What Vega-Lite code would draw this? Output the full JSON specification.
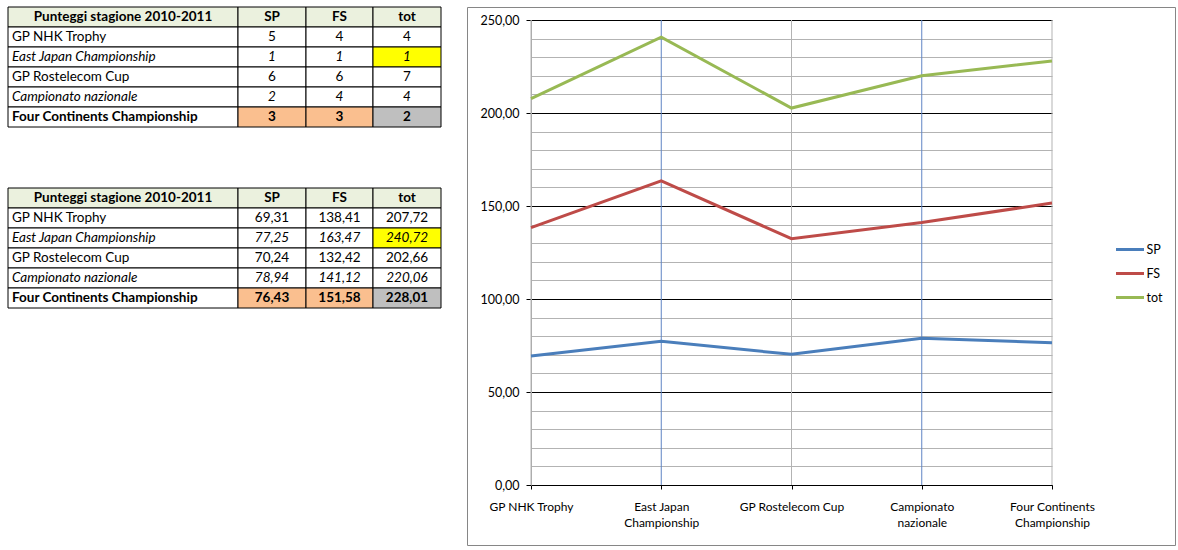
{
  "$schema": "https://vega.github.io/schema/vega-lite/v6.json",
  "background": "white",
  "padding": {"left": 7, "top": 6, "right": 0, "bottom": 0},
  "config": {"font": "Lato", "view": {"stroke": null}},
  "datasets": {
    "cells": [
      {"t": "rank", "r": 0, "col": "ev", "text": "Punteggi stagione 2010-2011", "st": "b", "hl": "head"},
      {"t": "rank", "r": 0, "col": "SP", "text": "SP", "st": "b", "hl": "head"},
      {"t": "rank", "r": 0, "col": "FS", "text": "FS", "st": "b", "hl": "head"},
      {"t": "rank", "r": 0, "col": "tot", "text": "tot", "st": "b", "hl": "head"},
      {"t": "rank", "r": 1, "col": "ev", "text": "GP NHK Trophy", "st": "n", "hl": "n"},
      {"t": "rank", "r": 1, "col": "SP", "text": "5", "st": "n", "hl": "n"},
      {"t": "rank", "r": 1, "col": "FS", "text": "4", "st": "n", "hl": "n"},
      {"t": "rank", "r": 1, "col": "tot", "text": "4", "st": "n", "hl": "n"},
      {"t": "rank", "r": 2, "col": "ev", "text": "East Japan Championship", "st": "i", "hl": "n"},
      {"t": "rank", "r": 2, "col": "SP", "text": "1", "st": "i", "hl": "n"},
      {"t": "rank", "r": 2, "col": "FS", "text": "1", "st": "i", "hl": "n"},
      {"t": "rank", "r": 2, "col": "tot", "text": "1", "st": "i", "hl": "y"},
      {"t": "rank", "r": 3, "col": "ev", "text": "GP Rostelecom Cup", "st": "n", "hl": "n"},
      {"t": "rank", "r": 3, "col": "SP", "text": "6", "st": "n", "hl": "n"},
      {"t": "rank", "r": 3, "col": "FS", "text": "6", "st": "n", "hl": "n"},
      {"t": "rank", "r": 3, "col": "tot", "text": "7", "st": "n", "hl": "n"},
      {"t": "rank", "r": 4, "col": "ev", "text": "Campionato nazionale", "st": "i", "hl": "n"},
      {"t": "rank", "r": 4, "col": "SP", "text": "2", "st": "i", "hl": "n"},
      {"t": "rank", "r": 4, "col": "FS", "text": "4", "st": "i", "hl": "n"},
      {"t": "rank", "r": 4, "col": "tot", "text": "4", "st": "i", "hl": "n"},
      {"t": "rank", "r": 5, "col": "ev", "text": "Four Continents Championship", "st": "b", "hl": "n"},
      {"t": "rank", "r": 5, "col": "SP", "text": "3", "st": "b", "hl": "o"},
      {"t": "rank", "r": 5, "col": "FS", "text": "3", "st": "b", "hl": "o"},
      {"t": "rank", "r": 5, "col": "tot", "text": "2", "st": "b", "hl": "g"},
      {"t": "score", "r": 0, "col": "ev", "text": "Punteggi stagione 2010-2011", "st": "b", "hl": "head"},
      {"t": "score", "r": 0, "col": "SP", "text": "SP", "st": "b", "hl": "head"},
      {"t": "score", "r": 0, "col": "FS", "text": "FS", "st": "b", "hl": "head"},
      {"t": "score", "r": 0, "col": "tot", "text": "tot", "st": "b", "hl": "head"},
      {"t": "score", "r": 1, "col": "ev", "text": "GP NHK Trophy", "st": "n", "hl": "n"},
      {"t": "score", "r": 1, "col": "SP", "text": "69,31", "st": "n", "hl": "n"},
      {"t": "score", "r": 1, "col": "FS", "text": "138,41", "st": "n", "hl": "n"},
      {"t": "score", "r": 1, "col": "tot", "text": "207,72", "st": "n", "hl": "n"},
      {"t": "score", "r": 2, "col": "ev", "text": "East Japan Championship", "st": "i", "hl": "n"},
      {"t": "score", "r": 2, "col": "SP", "text": "77,25", "st": "i", "hl": "n"},
      {"t": "score", "r": 2, "col": "FS", "text": "163,47", "st": "i", "hl": "n"},
      {"t": "score", "r": 2, "col": "tot", "text": "240,72", "st": "i", "hl": "y"},
      {"t": "score", "r": 3, "col": "ev", "text": "GP Rostelecom Cup", "st": "n", "hl": "n"},
      {"t": "score", "r": 3, "col": "SP", "text": "70,24", "st": "n", "hl": "n"},
      {"t": "score", "r": 3, "col": "FS", "text": "132,42", "st": "n", "hl": "n"},
      {"t": "score", "r": 3, "col": "tot", "text": "202,66", "st": "n", "hl": "n"},
      {"t": "score", "r": 4, "col": "ev", "text": "Campionato nazionale", "st": "i", "hl": "n"},
      {"t": "score", "r": 4, "col": "SP", "text": "78,94", "st": "i", "hl": "n"},
      {"t": "score", "r": 4, "col": "FS", "text": "141,12", "st": "i", "hl": "n"},
      {"t": "score", "r": 4, "col": "tot", "text": "220,06", "st": "i", "hl": "n"},
      {"t": "score", "r": 5, "col": "ev", "text": "Four Continents Championship", "st": "b", "hl": "n"},
      {"t": "score", "r": 5, "col": "SP", "text": "76,43", "st": "b", "hl": "o"},
      {"t": "score", "r": 5, "col": "FS", "text": "151,58", "st": "b", "hl": "o"},
      {"t": "score", "r": 5, "col": "tot", "text": "228,01", "st": "b", "hl": "g"}
    ],
    "series": [
      {"event": "GP NHK Trophy", "serie": "SP", "value": 69.31},
      {"event": "East Japan Championship", "serie": "SP", "value": 77.25},
      {"event": "GP Rostelecom Cup", "serie": "SP", "value": 70.24},
      {"event": "Campionato nazionale", "serie": "SP", "value": 78.94},
      {"event": "Four Continents Championship", "serie": "SP", "value": 76.43},
      {"event": "GP NHK Trophy", "serie": "FS", "value": 138.41},
      {"event": "East Japan Championship", "serie": "FS", "value": 163.47},
      {"event": "GP Rostelecom Cup", "serie": "FS", "value": 132.42},
      {"event": "Campionato nazionale", "serie": "FS", "value": 141.12},
      {"event": "Four Continents Championship", "serie": "FS", "value": 151.58},
      {"event": "GP NHK Trophy", "serie": "tot", "value": 207.72},
      {"event": "East Japan Championship", "serie": "tot", "value": 240.72},
      {"event": "GP Rostelecom Cup", "serie": "tot", "value": 202.66},
      {"event": "Campionato nazionale", "serie": "tot", "value": 220.06},
      {"event": "Four Continents Championship", "serie": "tot", "value": 228.01}
    ]
  },
  "spacing": 24,
  "hconcat": [
    {
      "data": {"name": "cells"},
      "spacing": 59,
      "vconcat": [
        {
          "bounds": "flush",
          "spacing": 0,
          "hconcat": [
            {
              "width": 230, "height": 120,
              "transform": [{"filter": "datum.t == 'rank' && datum.col == 'ev'"}],
              "encoding": {"y": {"field": "r", "type": "ordinal", "scale": {"paddingInner": 0, "paddingOuter": 0}, "axis": null}},
              "layer": [
                {"mark": {"type": "rect", "stroke": "black", "strokeWidth": 1}, "encoding": {"fill": {"field": "hl", "type": "nominal", "scale": {"domain": ["head", "n", "y", "o", "g"], "range": ["#ebf1de", "#ffffff", "#ffff00", "#fabf8f", "#bfbfbf"]}, "legend": null}}},
                {"transform": [{"filter": "datum.r == 0"}], "mark": {"type": "text", "fontSize": 13.5, "color": "black", "fontWeight": "bold"}, "encoding": {"text": {"field": "text"}}},
                {"transform": [{"filter": "datum.r > 0"}], "mark": {"type": "text", "fontSize": 13.5, "color": "black", "align": "left", "dx": 4, "fontWeight": {"expr": "datum.st == 'b' ? 'bold' : 'normal'"}, "fontStyle": {"expr": "datum.st == 'i' ? 'italic' : 'normal'"}}, "encoding": {"text": {"field": "text"}, "x": {"field": "col", "type": "nominal", "scale": {"type": "point", "padding": 0, "align": 0}, "axis": null}}}
              ]
            },
            {
              "width": 68, "height": 120,
              "transform": [{"filter": "datum.t == 'rank' && datum.col == 'SP'"}],
              "encoding": {"y": {"field": "r", "type": "ordinal", "scale": {"paddingInner": 0, "paddingOuter": 0}, "axis": null}},
              "layer": [
                {"mark": {"type": "rect", "stroke": "black", "strokeWidth": 1}, "encoding": {"fill": {"field": "hl", "type": "nominal", "scale": {"domain": ["head", "n", "y", "o", "g"], "range": ["#ebf1de", "#ffffff", "#ffff00", "#fabf8f", "#bfbfbf"]}, "legend": null}}},
                {"mark": {"type": "text", "fontSize": 13.5, "color": "black", "fontWeight": {"expr": "datum.st == 'b' ? 'bold' : 'normal'"}, "fontStyle": {"expr": "datum.st == 'i' ? 'italic' : 'normal'"}}, "encoding": {"text": {"field": "text"}}}
              ]
            },
            {
              "width": 67, "height": 120,
              "transform": [{"filter": "datum.t == 'rank' && datum.col == 'FS'"}],
              "encoding": {"y": {"field": "r", "type": "ordinal", "scale": {"paddingInner": 0, "paddingOuter": 0}, "axis": null}},
              "layer": [
                {"mark": {"type": "rect", "stroke": "black", "strokeWidth": 1}, "encoding": {"fill": {"field": "hl", "type": "nominal", "scale": {"domain": ["head", "n", "y", "o", "g"], "range": ["#ebf1de", "#ffffff", "#ffff00", "#fabf8f", "#bfbfbf"]}, "legend": null}}},
                {"mark": {"type": "text", "fontSize": 13.5, "color": "black", "fontWeight": {"expr": "datum.st == 'b' ? 'bold' : 'normal'"}, "fontStyle": {"expr": "datum.st == 'i' ? 'italic' : 'normal'"}}, "encoding": {"text": {"field": "text"}}}
              ]
            },
            {
              "width": 68, "height": 120,
              "transform": [{"filter": "datum.t == 'rank' && datum.col == 'tot'"}],
              "encoding": {"y": {"field": "r", "type": "ordinal", "scale": {"paddingInner": 0, "paddingOuter": 0}, "axis": null}},
              "layer": [
                {"mark": {"type": "rect", "stroke": "black", "strokeWidth": 1}, "encoding": {"fill": {"field": "hl", "type": "nominal", "scale": {"domain": ["head", "n", "y", "o", "g"], "range": ["#ebf1de", "#ffffff", "#ffff00", "#fabf8f", "#bfbfbf"]}, "legend": null}}},
                {"mark": {"type": "text", "fontSize": 13.5, "color": "black", "fontWeight": {"expr": "datum.st == 'b' ? 'bold' : 'normal'"}, "fontStyle": {"expr": "datum.st == 'i' ? 'italic' : 'normal'"}}, "encoding": {"text": {"field": "text"}}}
              ]
            }
          ]
        },
        {
          "bounds": "flush",
          "spacing": 0,
          "hconcat": [
            {
              "width": 230, "height": 120,
              "transform": [{"filter": "datum.t == 'score' && datum.col == 'ev'"}],
              "encoding": {"y": {"field": "r", "type": "ordinal", "scale": {"paddingInner": 0, "paddingOuter": 0}, "axis": null}},
              "layer": [
                {"mark": {"type": "rect", "stroke": "black", "strokeWidth": 1}, "encoding": {"fill": {"field": "hl", "type": "nominal", "scale": {"domain": ["head", "n", "y", "o", "g"], "range": ["#ebf1de", "#ffffff", "#ffff00", "#fabf8f", "#bfbfbf"]}, "legend": null}}},
                {"transform": [{"filter": "datum.r == 0"}], "mark": {"type": "text", "fontSize": 13.5, "color": "black", "fontWeight": "bold"}, "encoding": {"text": {"field": "text"}}},
                {"transform": [{"filter": "datum.r > 0"}], "mark": {"type": "text", "fontSize": 13.5, "color": "black", "align": "left", "dx": 4, "fontWeight": {"expr": "datum.st == 'b' ? 'bold' : 'normal'"}, "fontStyle": {"expr": "datum.st == 'i' ? 'italic' : 'normal'"}}, "encoding": {"text": {"field": "text"}, "x": {"field": "col", "type": "nominal", "scale": {"type": "point", "padding": 0, "align": 0}, "axis": null}}}
              ]
            },
            {
              "width": 68, "height": 120,
              "transform": [{"filter": "datum.t == 'score' && datum.col == 'SP'"}],
              "encoding": {"y": {"field": "r", "type": "ordinal", "scale": {"paddingInner": 0, "paddingOuter": 0}, "axis": null}},
              "layer": [
                {"mark": {"type": "rect", "stroke": "black", "strokeWidth": 1}, "encoding": {"fill": {"field": "hl", "type": "nominal", "scale": {"domain": ["head", "n", "y", "o", "g"], "range": ["#ebf1de", "#ffffff", "#ffff00", "#fabf8f", "#bfbfbf"]}, "legend": null}}},
                {"mark": {"type": "text", "fontSize": 13.5, "color": "black", "fontWeight": {"expr": "datum.st == 'b' ? 'bold' : 'normal'"}, "fontStyle": {"expr": "datum.st == 'i' ? 'italic' : 'normal'"}}, "encoding": {"text": {"field": "text"}}}
              ]
            },
            {
              "width": 67, "height": 120,
              "transform": [{"filter": "datum.t == 'score' && datum.col == 'FS'"}],
              "encoding": {"y": {"field": "r", "type": "ordinal", "scale": {"paddingInner": 0, "paddingOuter": 0}, "axis": null}},
              "layer": [
                {"mark": {"type": "rect", "stroke": "black", "strokeWidth": 1}, "encoding": {"fill": {"field": "hl", "type": "nominal", "scale": {"domain": ["head", "n", "y", "o", "g"], "range": ["#ebf1de", "#ffffff", "#ffff00", "#fabf8f", "#bfbfbf"]}, "legend": null}}},
                {"mark": {"type": "text", "fontSize": 13.5, "color": "black", "fontWeight": {"expr": "datum.st == 'b' ? 'bold' : 'normal'"}, "fontStyle": {"expr": "datum.st == 'i' ? 'italic' : 'normal'"}}, "encoding": {"text": {"field": "text"}}}
              ]
            },
            {
              "width": 68, "height": 120,
              "transform": [{"filter": "datum.t == 'score' && datum.col == 'tot'"}],
              "encoding": {"y": {"field": "r", "type": "ordinal", "scale": {"paddingInner": 0, "paddingOuter": 0}, "axis": null}},
              "layer": [
                {"mark": {"type": "rect", "stroke": "black", "strokeWidth": 1}, "encoding": {"fill": {"field": "hl", "type": "nominal", "scale": {"domain": ["head", "n", "y", "o", "g"], "range": ["#ebf1de", "#ffffff", "#ffff00", "#fabf8f", "#bfbfbf"]}, "legend": null}}},
                {"mark": {"type": "text", "fontSize": 13.5, "color": "black", "fontWeight": {"expr": "datum.st == 'b' ? 'bold' : 'normal'"}, "fontStyle": {"expr": "datum.st == 'i' ? 'italic' : 'normal'"}}, "encoding": {"text": {"field": "text"}}}
              ]
            }
          ]
        }
      ]
    },
    {
      "width": 708,
      "height": 538,
      "view": {"stroke": "#868686", "fill": "white"},
      "data": {"name": "series"},
      "encoding": {
        "x": {
          "field": "event", "type": "nominal",
          "sort": ["GP NHK Trophy", "East Japan Championship", "GP Rostelecom Cup", "Campionato nazionale", "Four Continents Championship"],
          "scale": {"type": "point", "padding": 0, "range": [64, 585]},
          "axis": {
            "title": null, "orient": "bottom", "offset": -60, "grid": false,
            "domainColor": "black", "tickColor": "black", "tickSize": 4,
            "labelAngle": 0, "labelFontSize": 12, "labelColor": "black", "labelPadding": 12,
            "labelLineHeight": 16, "labelBaseline": "top", "labelOverlap": false, "labelBound": false, "labelLimit": 0,
            "labelExpr": "indexof(datum.label, 'GP') === 0 ? datum.label : split(replace(replace(replace(datum.label, 'East Japan ', 'East Japan|'), 'Campionato ', 'Campionato|'), 'Four Continents ', 'Four Continents|'), '|')"
          }
        },
        "y": {
          "field": "value", "type": "quantitative",
          "scale": {"domain": [0, 250], "range": [478, 13], "nice": false},
          "axis": {
            "title": null, "offset": -64,
            "values": [0, 10, 20, 30, 40, 50, 60, 70, 80, 90, 100, 110, 120, 130, 140, 150, 160, 170, 180, 190, 200, 210, 220, 230, 240, 250],
            "grid": true,
            "gridColor": {"condition": {"test": "datum.value % 50 == 0", "value": "black"}, "value": "#b3b3b3"},
            "domainColor": "#a6a6a6", "tickColor": "black", "tickSize": 5,
            "tickOpacity": {"condition": {"test": "datum.value % 50 == 0", "value": 1}, "value": 0},
            "labelExpr": "datum.value % 50 == 0 ? replace(format(datum.value, '.2f'), '.', ',') : ''",
            "labelPadding": 7, "labelFontSize": 12.5, "labelColor": "black", "labelOverlap": false
          }
        }
      },
      "layer": [
        {
          "transform": [{"filter": "datum.serie == 'SP'"}],
          "mark": {"type": "rule", "strokeWidth": 1},
          "encoding": {
            "y": {"datum": 0, "type": "quantitative"},
            "y2": {"datum": 250},
            "stroke": {"condition": {"test": "datum.event == 'East Japan Championship' || datum.event == 'Campionato nazionale'", "value": "#5f84c4"}, "value": "#b3b3b3"}
          }
        },
        {
          "mark": {"type": "line", "strokeWidth": 3},
          "encoding": {
            "color": {
              "field": "serie", "type": "nominal",
              "scale": {"domain": ["SP", "FS", "tot"], "range": ["#4a7ebb", "#be4b48", "#98b954"]},
              "legend": {
                "title": null, "orient": "none", "legendX": 1115.5, "legendY": 236,
                "symbolType": "M-2.8,0H2.8", "symbolSize": 100, "symbolStrokeWidth": 3,
                "labelOffset": 10, "labelFontSize": 12.5, "labelColor": "black", "rowPadding": 11, "padding": 0
              }
            }
          }
        }
      ]
    }
  ]
}
